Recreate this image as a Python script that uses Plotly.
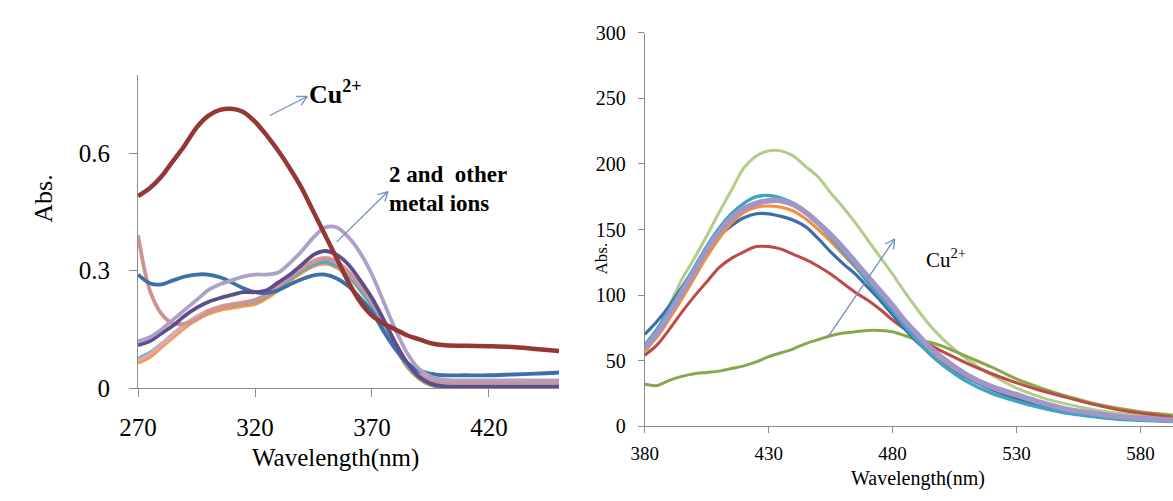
import math
import plotly.graph_objects as go

W, H = 1173, 501
SERIF = "'Liberation Serif', 'Times New Roman', Times, 'DejaVu Serif', serif"

# ---------------- UV-vis absorption (left panel) ----------------
WL_ABS = [270, 275, 280, 285, 290, 295, 300, 305, 310, 315, 320, 325, 330, 335,
          340, 345, 350, 355, 360, 365, 370, 375, 380, 385, 390, 395, 400, 410,
          420, 430, 440, 450]

abs_cu = [0.49, 0.51, 0.54, 0.58, 0.62, 0.665, 0.695, 0.71, 0.713, 0.705, 0.68,
          0.645, 0.605, 0.56, 0.51, 0.45, 0.39, 0.33, 0.27, 0.22, 0.185, 0.165,
          0.15, 0.135, 0.125, 0.115, 0.11, 0.108, 0.107, 0.105, 0.1, 0.095]
abs_blue = [0.29, 0.268, 0.265, 0.275, 0.285, 0.29, 0.29, 0.283, 0.27, 0.255,
            0.245, 0.243, 0.25, 0.265, 0.278, 0.288, 0.29, 0.28, 0.26, 0.23,
            0.195, 0.145, 0.1, 0.065, 0.045, 0.037, 0.033, 0.033, 0.033, 0.035,
            0.037, 0.04]
abs_lavender = [0.12, 0.13, 0.15, 0.175, 0.2, 0.225, 0.25, 0.265, 0.275, 0.285,
                0.29, 0.29, 0.295, 0.32, 0.35, 0.385, 0.41, 0.41, 0.385, 0.345,
                0.29, 0.22, 0.15, 0.09, 0.05, 0.03, 0.022, 0.02, 0.02, 0.02,
                0.02, 0.02]
abs_purple = [0.11, 0.12, 0.14, 0.16, 0.185, 0.205, 0.22, 0.23, 0.238, 0.245,
              0.245, 0.25, 0.27, 0.29, 0.315, 0.34, 0.35, 0.34, 0.315, 0.275,
              0.23, 0.175, 0.115, 0.065, 0.03, 0.012, 0.005, 0.004, 0.004,
              0.004, 0.004, 0.004]
abs_rose = [0.39, 0.25, 0.19, 0.165, 0.165, 0.175, 0.195, 0.205, 0.213, 0.218,
            0.225, 0.238, 0.26, 0.285, 0.305, 0.322, 0.33, 0.32, 0.295, 0.26,
            0.22, 0.17, 0.115, 0.065, 0.035, 0.02, 0.015, 0.015, 0.015, 0.015,
            0.015, 0.015]
abs_orange = [0.065, 0.08, 0.105, 0.13, 0.155, 0.175, 0.19, 0.2, 0.205, 0.21,
              0.215, 0.23, 0.25, 0.275, 0.295, 0.312, 0.318, 0.308, 0.285, 0.25,
              0.21, 0.16, 0.105, 0.055, 0.025, 0.008, 0.002, 0.001, 0.001,
              0.001, 0.001, 0.001]
abs_aqua = [0.075, 0.09, 0.112, 0.138, 0.162, 0.182, 0.196, 0.206, 0.212, 0.217,
            0.222, 0.236, 0.256, 0.28, 0.3, 0.316, 0.322, 0.312, 0.288, 0.252,
            0.212, 0.162, 0.108, 0.058, 0.028, 0.01, 0.004, 0.003, 0.003,
            0.003, 0.003, 0.003]
abs_skyblue = [0.072, 0.088, 0.112, 0.137, 0.162, 0.181, 0.197, 0.207, 0.213,
               0.218, 0.224, 0.24, 0.26, 0.285, 0.305, 0.322, 0.33, 0.32, 0.295,
               0.26, 0.22, 0.17, 0.113, 0.062, 0.032, 0.015, 0.008, 0.006,
               0.006, 0.006, 0.006, 0.006]
abs_pink = [0.07, 0.086, 0.11, 0.136, 0.161, 0.182, 0.198, 0.208, 0.214, 0.219,
            0.225, 0.24, 0.262, 0.287, 0.307, 0.325, 0.333, 0.323, 0.298, 0.262,
            0.222, 0.172, 0.116, 0.066, 0.036, 0.02, 0.015, 0.014, 0.014,
            0.014, 0.014, 0.014]

# ---------------- Fluorescence emission (right panel) ----------------
WL_FL = [380, 385, 390, 395, 400, 405, 410, 415, 420, 425, 430, 435, 440, 445,
         450, 455, 460, 465, 470, 475, 480, 485, 490, 495, 500, 510, 520, 530,
         540, 550, 560, 570, 580, 593]

fl_lightgreen = [54, 72, 92, 112, 128, 145, 163, 180, 197, 206, 210, 210, 206,
                 198, 190, 178, 167, 155, 142, 129, 116, 102, 89, 77, 67, 51, 39,
                 29, 22, 17, 13, 10, 8, 6]
fl_green = [32, 31, 35, 38, 40, 41, 42, 44, 46, 49, 53, 56, 59, 63, 66, 69, 71,
            72, 73, 73, 72, 69, 66, 64, 61, 53, 45, 36, 29, 23, 18, 14, 11, 8.5]
fl_red = [54, 62, 74, 87, 99, 110, 121, 128, 133, 137, 137, 135, 131, 127, 122,
          116, 109, 102, 96, 89, 81, 74, 68, 62, 57, 48, 40, 33, 27, 22, 17, 13,
          10, 7]
fl_blue = [70, 80, 92, 106, 120, 133, 145, 153, 159, 162, 162, 160, 157, 152,
           143, 133, 124, 116, 106, 96, 85, 74, 64, 56, 49, 37, 28, 21, 16, 12,
           9, 7, 5.5, 4]
fl_orange = [58, 68, 82, 97, 113, 129, 143, 155, 163, 167, 168, 167, 164, 158,
             150, 141, 131, 121, 110, 99, 88, 77, 67, 58, 50, 38, 29, 23, 17, 13,
             10, 7.5, 6, 4.5]
fl_aqua = [62, 74, 89, 105, 121, 137, 151, 162, 170, 175, 176, 174, 170, 163,
           154, 144, 133, 122, 110, 99, 88, 76, 65, 55, 47, 34, 25, 19, 14, 10,
           7.5, 5.5, 4.5, 3.5]
fl_lavender = [60, 71, 86, 102, 118, 134, 148, 159, 166, 170, 172, 172, 169,
               163, 155, 146, 136, 125, 114, 103, 92, 80, 70, 60, 52, 39, 30, 24,
               18, 13, 10, 7.5, 6, 4.5]

fig = go.Figure()


def add_line(x, y, color, width, xa, ya):
    fig.add_trace(go.Scatter(
        x=x, y=y, mode="lines", xaxis=xa, yaxis=ya,
        line=dict(color=color, width=width, shape="spline", smoothing=0.9),
        hoverinfo="skip"))


# absorption spectra: bundle first, Cu2+ on top
for ys, col in [(abs_orange, "#F79646"), (abs_aqua, "#4BACC6"),
                (abs_skyblue, "#95B3D7"), (abs_pink, "#E0A9A7"),
                (abs_rose, "#CD9492"), (abs_blue, "#3D6FA9"),
                (abs_purple, "#5E4D8C"), (abs_lavender, "#ADA1C8"),
                (abs_cu, "#953735")]:
    add_line(WL_ABS, ys, col, 4.5 if col == "#953735" else 3.8, "x", "y")

# emission spectra
for ys, col, w in [(fl_lightgreen, "#B3CC8A", 3), (fl_green, "#87A94A", 3),
                   (fl_red, "#BE4B48", 3), (fl_blue, "#3C6EAA", 3.2),
                   (fl_orange, "#F58E3C", 3), (fl_aqua, "#3FA4C0", 3.4),
                   (fl_lavender, "#A096C8", 5.5)]:
    add_line(WL_FL, ys, col, w, "x2", "y2")

axis_common = dict(showline=True, linecolor="#8C8C8C", linewidth=1,
                   ticks="outside", tickcolor="#8C8C8C", showgrid=False,
                   zeroline=False)


def px_x(px):
    return px / W


def px_y(py):
    return 1 - py / H


fig.update_layout(
    width=W, height=H, margin=dict(l=0, r=0, t=0, b=0),
    paper_bgcolor="white", plot_bgcolor="white", showlegend=False,
    font=dict(family=SERIF, color="black"),
    xaxis=dict(domain=[px_x(121), px_x(549)], range=[270, 450],
               tickvals=[270, 320, 370, 420], ticklen=8,
               tickfont=dict(size=25, family=SERIF, color="black"),
               ticklabelstandoff=9, anchor="y", **axis_common),
    yaxis=dict(domain=[px_y(397), px_y(67)], range=[0, 0.8],
               tickvals=[0, 0.3, 0.6], ticktext=["0", "0.3", "0.6"],
               ticklen=8, tickfont=dict(size=25, family=SERIF, color="black"),
               ticklabelstandoff=14, anchor="x", **axis_common),
    xaxis2=dict(domain=[px_x(636), 1.0], range=[380, 593.1],
                tickvals=[380, 430, 480, 530, 580], ticklen=6,
                tickfont=dict(size=19, family=SERIF, color="black"),
                ticklabelstandoff=4, anchor="y2", **axis_common),
    yaxis2=dict(domain=[px_y(437), px_y(23)], range=[0, 300],
                tickvals=[0, 50, 100, 150, 200, 250, 300], ticklen=6,
                tickfont=dict(size=20, family=SERIF, color="black"),
                ticklabelstandoff=8, anchor="x2", **axis_common),
)

# axis titles and labels
texts = [
    ("Wavelength(nm)", 322, 471, 25, 0, "center"),
    ("Abs.", 25, 198, 26, -90, "center"),
    ("Wavelength(nm)", 914, 492, 20, 0, "center"),
    ("Abs.", 592, 260, 17, -90, "center"),
    ("<b>Cu<sup>2+</sup></b>", 322, 86, 26, 0, "center"),
    ("<b>2 and\u00a0 other</b>", 375, 172, 23, 0, "left"),
    ("<b>metal ions</b>", 375, 203, 23, 0, "left"),
    ("Cu<sup>2+</sup>", 942, 260, 21, 0, "center"),
]
for txt, x, y, size, ang, align in texts:
    fig.add_annotation(text=txt, x=px_x(x), y=px_y(y), xref="paper",
                       yref="paper", showarrow=False, textangle=ang,
                       xanchor=align, yanchor="middle", borderpad=0,
                       font=dict(size=size, family=SERIF, color="black"))


def arrow(x0, y0, x1, y1, color="#6F8FC2", width=1.3, head=11, spread=28):
    shapes = [dict(type="line", xref="paper", yref="paper",
                   x0=px_x(x0), y0=px_y(y0), x1=px_x(x1), y1=px_y(y1),
                   line=dict(color=color, width=width))]
    ang = math.atan2(y1 - y0, x1 - x0)
    for s in (-1, 1):
        a = ang + math.pi + s * math.radians(spread)
        hx, hy = x1 + head * math.cos(a), y1 + head * math.sin(a)
        shapes.append(dict(type="line", xref="paper", yref="paper",
                           x0=px_x(x1), y0=px_y(y1), x1=px_x(hx), y1=px_y(hy),
                           line=dict(color=color, width=width)))
    for sh in shapes:
        fig.add_shape(**sh)


arrow(255, 110, 293, 90)
arrow(323, 243, 375, 190)
arrow(823, 342, 890, 240)

fig.write_html("out.html")
